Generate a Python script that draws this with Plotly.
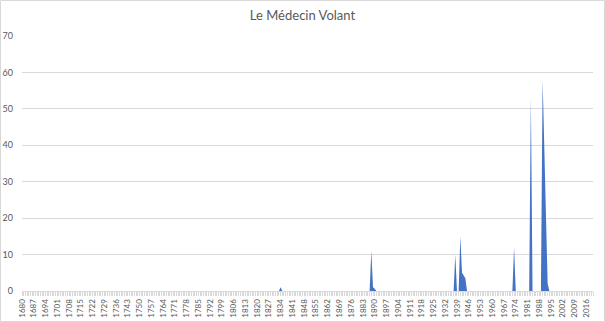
import plotly.graph_objects as go

# Data
first_year = 1680
last_year = 2020
peak_years = [1833, 1834, 1835, 1888, 1889, 1890, 1938, 1941, 1942, 1943, 1944, 1973, 1983, 1990, 1991, 1992, 1993]
peak_values = [0, 1, 0, 11, 1, 0.6, 10, 15, 5, 4.3, 3.5, 12, 53, 58, 39, 20, 2]
tick_years = list(range(1680, 2017, 7))
tick_labels = [str(y) for y in tick_years]
title_text = "Le Médecin Volant"

years = list(range(first_year, last_year + 1))
lookup = dict(zip(peak_years, peak_values))
values = [lookup.get(y, 0) for y in years]

W, H = 605, 322
ml, mr, mt, mb = 22, 12, 36, 31

fig = go.Figure()
fig.add_trace(go.Scatter(
    x=years, y=values, mode="lines", fill="tozeroy",
    line=dict(width=0, color="#4472C4"), fillcolor="#4472C4",
    hoverinfo="x+y", showlegend=False,
))

fig.update_layout(
    width=W, height=H,
    margin=dict(l=ml, r=mr, t=mt, b=mb, autoexpand=False),
    paper_bgcolor="white", plot_bgcolor="white",
    title=dict(text=title_text, x=0.5, xanchor="center", y=1 - 15 / H, yanchor="middle",
               font=dict(family="Lato, Open Sans, sans-serif", size=13, color="#595959")),
    font=dict(family="Lato, Open Sans, sans-serif", color="#595959"),
    xaxis=dict(
        automargin=False,
        range=[first_year, last_year],
        tickmode="array", tickvals=tick_years, ticktext=tick_labels,
        tickangle=-90, tickfont=dict(size=8, color="#595959"),
        showgrid=False, zeroline=False,
        showline=True, linecolor="#d9d9d9", linewidth=1,
        ticks="outside", ticklen=4, tickcolor="#d9d9d9",
        minor=dict(dtick=1, tick0=first_year, ticks="outside", ticklen=4, tickcolor="#d9d9d9", showgrid=False),
    ),
    yaxis=dict(
        automargin=False,
        range=[0, 70], dtick=10, tick0=0,
        tickfont=dict(size=9, color="#595959"),
        showgrid=True, gridcolor="#d9d9d9", gridwidth=1,
        zeroline=False, showline=False, ticks="", ticklabelstandoff=8,
    ),
)

# chart area border
pw = W - ml - mr
ph = H - mt - mb
fig.add_shape(type="rect", xref="paper", yref="paper",
              x0=(-ml + 0.5) / pw, x1=1 + (mr - 0.5) / pw,
              y0=(-mb + 0.5) / ph, y1=1 + (mt - 0.5) / ph,
              line=dict(color="#d9d9d9", width=1), fillcolor="rgba(0,0,0,0)", layer="below")

fig.write_html("out.html")
